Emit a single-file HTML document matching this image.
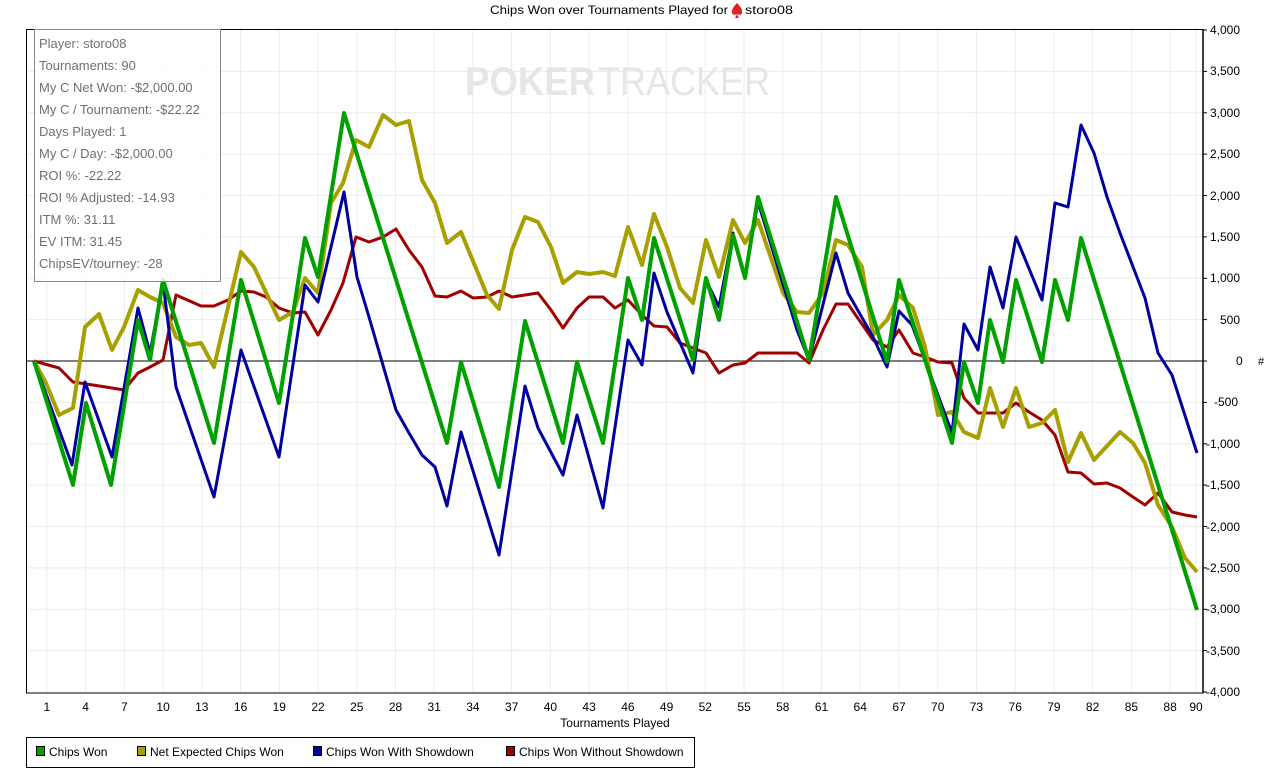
<!DOCTYPE html>
<html><head><meta charset="utf-8"><style>
html,body{margin:0;padding:0;background:#fff;}
svg{display:block;font-family:"Liberation Sans",sans-serif;}
</style></head><body>
<svg width="1288" height="783" viewBox="0 0 1288 783" xmlns="http://www.w3.org/2000/svg">
<rect width="1288" height="783" fill="#fff"/>
<text x="490" y="14" font-size="12" fill="#000" textLength="238" lengthAdjust="spacingAndGlyphs">Chips Won over Tournaments Played for</text>
<text x="745" y="14" font-size="12" fill="#000" textLength="48" lengthAdjust="spacingAndGlyphs">storo08</text>
<path d="M737 3 q-6 6 -5 10 q1 3 5 1 l-2 4 h4 l-2 -4 q4 2 5 -1 q1 -4 -5 -10z" fill="#d22"/>
<g stroke="#ececec" stroke-width="1">
<line x1="26" y1="71.4" x2="1203" y2="71.4"/><line x1="26" y1="112.8" x2="1203" y2="112.8"/><line x1="26" y1="154.1" x2="1203" y2="154.1"/><line x1="26" y1="195.5" x2="1203" y2="195.5"/><line x1="26" y1="236.9" x2="1203" y2="236.9"/><line x1="26" y1="278.3" x2="1203" y2="278.3"/><line x1="26" y1="319.6" x2="1203" y2="319.6"/><line x1="26" y1="402.4" x2="1203" y2="402.4"/><line x1="26" y1="443.8" x2="1203" y2="443.8"/><line x1="26" y1="485.1" x2="1203" y2="485.1"/><line x1="26" y1="526.5" x2="1203" y2="526.5"/><line x1="26" y1="567.9" x2="1203" y2="567.9"/><line x1="26" y1="609.3" x2="1203" y2="609.3"/><line x1="26" y1="650.6" x2="1203" y2="650.6"/>
<line x1="46.9" y1="30" x2="46.9" y2="693"/><line x1="85.6" y1="30" x2="85.6" y2="693"/><line x1="124.4" y1="30" x2="124.4" y2="693"/><line x1="163.1" y1="30" x2="163.1" y2="693"/><line x1="201.8" y1="30" x2="201.8" y2="693"/><line x1="240.6" y1="30" x2="240.6" y2="693"/><line x1="279.3" y1="30" x2="279.3" y2="693"/><line x1="318" y1="30" x2="318" y2="693"/><line x1="356.8" y1="30" x2="356.8" y2="693"/><line x1="395.5" y1="30" x2="395.5" y2="693"/><line x1="434.2" y1="30" x2="434.2" y2="693"/><line x1="472.9" y1="30" x2="472.9" y2="693"/><line x1="511.7" y1="30" x2="511.7" y2="693"/><line x1="550.4" y1="30" x2="550.4" y2="693"/><line x1="589.1" y1="30" x2="589.1" y2="693"/><line x1="627.9" y1="30" x2="627.9" y2="693"/><line x1="666.6" y1="30" x2="666.6" y2="693"/><line x1="705.3" y1="30" x2="705.3" y2="693"/><line x1="744.1" y1="30" x2="744.1" y2="693"/><line x1="782.8" y1="30" x2="782.8" y2="693"/><line x1="821.5" y1="30" x2="821.5" y2="693"/><line x1="860.2" y1="30" x2="860.2" y2="693"/><line x1="899" y1="30" x2="899" y2="693"/><line x1="937.7" y1="30" x2="937.7" y2="693"/><line x1="976.4" y1="30" x2="976.4" y2="693"/><line x1="1015.2" y1="30" x2="1015.2" y2="693"/><line x1="1053.9" y1="30" x2="1053.9" y2="693"/><line x1="1092.6" y1="30" x2="1092.6" y2="693"/><line x1="1131.4" y1="30" x2="1131.4" y2="693"/><line x1="1170.1" y1="30" x2="1170.1" y2="693"/><line x1="1196" y1="30" x2="1196" y2="693"/>
</g>
<text x="465" y="95" font-size="40" font-weight="bold" fill="#e6e6e6" textLength="130" lengthAdjust="spacingAndGlyphs">POKER</text>
<text x="598" y="95" font-size="40" fill="#e6e6e6" textLength="172" lengthAdjust="spacingAndGlyphs">TRACKER</text>
<line x1="26" y1="361" x2="1203" y2="361" stroke="#000" stroke-width="1"/>
<g fill="none" stroke-linejoin="round" stroke-linecap="butt">
<polyline stroke="#a00000" stroke-width="3" points="34,361 59,368 73,382 93,385 112,388 124,390 138,373 150,367 163,360 176,295 201,306 214,306 228,300 241,291 254,292 266,297 279,308 293,313 305,312 318,335 331,310 343,283 356,237 369,242 383,237 396,229 409,250 422,267 435,296 447,297 461,291 473,298 487,297 499,291 512,297 538,293 551,310 563,328 577,308 589,297 603,297 615,308 628,300 642,315 654,326 667,327 680,343 693,348 706,353 719,373 733,365 745,363 758,353 797,353 809,363 823,330 836,304 848,304 873,340 887,347 899,330 913,353 925,357 938,362 952,363 964,398 978,413 1003,413 1016,403 1029,412 1042,420 1055,435 1068,472 1081,473 1094,484 1107,483 1120,488 1133,497 1145,505 1158,493 1172,512 1185,515 1197,517"/>
<polyline stroke="#a8a000" stroke-width="4" points="34,361 46,383 59,415 73,408 85,327 99,314 112,350 124,327 138,290 150,297 163,303 176,337 189,345 201,343 214,367 241,252 254,267 279,320 293,312 305,278 318,293 331,203 343,183 356,140 369,147 383,115 396,125 409,121 422,180 435,203 447,243 461,232 487,295 499,309 512,250 525,217 538,222 551,247 563,283 577,272 589,274 603,272 615,276 628,227 642,265 654,214 667,247 680,288 693,303 706,240 719,277 733,220 745,243 758,220 783,293 797,312 809,313 823,293 836,240 848,245 862,267 873,335 887,320 899,295 913,308 925,347 938,415 952,412 964,432 978,438 990,388 1003,427 1016,388 1029,427 1042,423 1055,410 1068,462 1081,433 1094,460 1120,432 1133,443 1145,463 1158,505 1172,527 1185,558 1197,572"/>
<polyline stroke="#0000a0" stroke-width="3" points="34,361 72,465 85,382 112,457 138,308 150,353 163,282 176,387 214,497 241,350 279,457 305,285 318,302 344,192 357,277 369,317 396,410 409,433 422,455 435,467 447,506 461,432 499,555 525,386 538,428 563,475 577,415 603,508 628,340 642,365 654,273 667,312 693,373 706,280 719,307 733,233 745,277 758,202 797,330 809,360 836,253 848,293 873,337 887,367 899,311 912,325 952,433 964,324 978,350 990,267 1003,308 1016,237 1042,300 1055,203 1068,207 1081,125 1094,153 1107,197 1120,233 1145,298 1158,353 1172,375 1197,453"/>
<polyline stroke="#00a000" stroke-width="4" points="34,361 73,485 86,403 111,485 138,320 150,360 163,280 214,443 241,280 279,403 305,238 318,277 344,113 447,443 461,362 499,487 525,321 563,443 577,362 603,443 628,278 642,320 654,238 693,360 706,278 719,320 733,235 745,278 758,197 809,360 836,197 887,362 899,280 952,443 964,362 978,403 990,320 1003,362 1016,280 1042,362 1055,280 1068,320 1081,238 1197,610"/>
</g>
<rect x="26.5" y="29.5" width="1176.5" height="663.5" fill="none" stroke="#000" stroke-width="1"/>
<line x1="1203" y1="29" x2="1203" y2="693" stroke="#000" stroke-width="1.5"/>
<rect x="34.5" y="29.5" width="186" height="252" fill="#fff" fill-opacity="0.85" stroke="#888"/>
<g font-size="13" fill="#707070">
<text x="39" y="48">Player: storo08</text>
<text x="39" y="70">Tournaments: 90</text>
<text x="39" y="92">My C Net Won: -$2,000.00</text>
<text x="39" y="114">My C / Tournament: -$22.22</text>
<text x="39" y="136">Days Played: 1</text>
<text x="39" y="158">My C / Day: -$2,000.00</text>
<text x="39" y="180">ROI %: -22.22</text>
<text x="39" y="202">ROI % Adjusted: -14.93</text>
<text x="39" y="224">ITM %: 31.11</text>
<text x="39" y="246">EV ITM: 31.45</text>
<text x="39" y="268">ChipsEV/tourney: -28</text>
</g>
<g stroke="#000" stroke-width="1">
<line x1="1203" y1="30" x2="1207" y2="30"/><line x1="1203" y1="71.4" x2="1207" y2="71.4"/><line x1="1203" y1="112.8" x2="1207" y2="112.8"/><line x1="1203" y1="154.1" x2="1207" y2="154.1"/><line x1="1203" y1="195.5" x2="1207" y2="195.5"/><line x1="1203" y1="236.9" x2="1207" y2="236.9"/><line x1="1203" y1="278.3" x2="1207" y2="278.3"/><line x1="1203" y1="319.6" x2="1207" y2="319.6"/><line x1="1203" y1="361" x2="1207" y2="361"/><line x1="1203" y1="402.4" x2="1207" y2="402.4"/><line x1="1203" y1="443.8" x2="1207" y2="443.8"/><line x1="1203" y1="485.1" x2="1207" y2="485.1"/><line x1="1203" y1="526.5" x2="1207" y2="526.5"/><line x1="1203" y1="567.9" x2="1207" y2="567.9"/><line x1="1203" y1="609.3" x2="1207" y2="609.3"/><line x1="1203" y1="650.6" x2="1207" y2="650.6"/><line x1="1203" y1="692" x2="1207" y2="692"/>
</g>
<g font-size="12" fill="#000">
<text x="1210" y="34">4,000</text><text x="1210" y="75">3,500</text><text x="1210" y="117">3,000</text><text x="1210" y="158">2,500</text><text x="1210" y="200">2,000</text><text x="1210" y="241">1,500</text><text x="1210" y="282">1,000</text><text x="1220" y="324">500</text><text x="1236" y="365">0</text><text x="1214" y="406">-500</text><text x="1206" y="448">-1,000</text><text x="1206" y="489">-1,500</text><text x="1206" y="531">-2,000</text><text x="1206" y="572">-2,500</text><text x="1206" y="613">-3,000</text><text x="1206" y="655">-3,500</text><text x="1206" y="696">-4,000</text>
<text x="1258" y="365" font-size="11">#</text>
</g>
<g font-size="12" fill="#000" text-anchor="middle">
<text x="46.9" y="711">1</text><text x="85.6" y="711">4</text><text x="124.4" y="711">7</text><text x="163.1" y="711">10</text><text x="201.8" y="711">13</text><text x="240.6" y="711">16</text><text x="279.3" y="711">19</text><text x="318" y="711">22</text><text x="356.8" y="711">25</text><text x="395.5" y="711">28</text><text x="434.2" y="711">31</text><text x="472.9" y="711">34</text><text x="511.7" y="711">37</text><text x="550.4" y="711">40</text><text x="589.1" y="711">43</text><text x="627.9" y="711">46</text><text x="666.6" y="711">49</text><text x="705.3" y="711">52</text><text x="744.1" y="711">55</text><text x="782.8" y="711">58</text><text x="821.5" y="711">61</text><text x="860.2" y="711">64</text><text x="899" y="711">67</text><text x="937.7" y="711">70</text><text x="976.4" y="711">73</text><text x="1015.2" y="711">76</text><text x="1053.9" y="711">79</text><text x="1092.6" y="711">82</text><text x="1131.4" y="711">85</text><text x="1170.1" y="711">88</text><text x="1196" y="711">90</text>
<text x="615" y="727">Tournaments Played</text>
</g>
<rect x="26.5" y="737.5" width="668" height="30" fill="#fff" stroke="#000"/>
<g stroke="#000" stroke-width="1">
<rect x="36.5" y="746.5" width="8" height="9" fill="#00a000"/>
<rect x="137.5" y="746.5" width="8" height="9" fill="#a8a000"/>
<rect x="313.5" y="746.5" width="8" height="9" fill="#0000a0"/>
<rect x="506.5" y="746.5" width="8" height="9" fill="#a00000"/>
</g>
<g font-size="12" fill="#000">
<text x="49" y="756">Chips Won</text>
<text x="150" y="756">Net Expected Chips Won</text>
<text x="326" y="756">Chips Won With Showdown</text>
<text x="519" y="756">Chips Won Without Showdown</text>
</g>
</svg>
</body></html>
